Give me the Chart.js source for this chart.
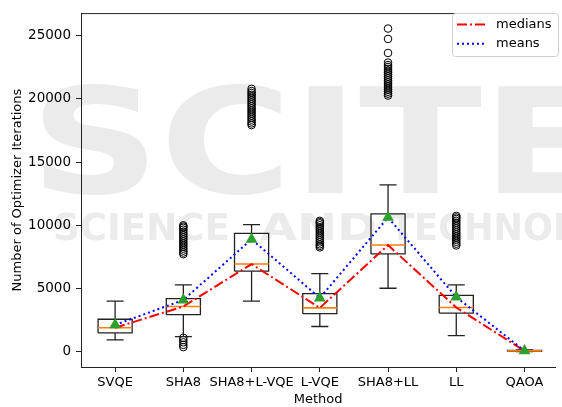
<!DOCTYPE html>
<html>
<head>
<meta charset="utf-8">
<script src="https://cdn.jsdelivr.net/npm/chart.js@4/dist/chart.umd.min.js"></script>
<style>
  html, body { margin: 0; padding: 0; background: #fff; overflow: hidden; }
  canvas { display: block; }
</style>
</head>
<body>
<canvas id="chart" width="562" height="407"></canvas>
<script>
// Optimizer iterations per method: box statistics
const methods      = ['SVQE', 'SHA8', 'SHA8+L-VQE', 'L-VQE', 'SHA8+LL', 'LL', 'QAOA'];
const whiskerLow   = [960, 1215, 4020, 2010, 5030, 1290, 20];
const quartile1    = [1500, 2940, 6380, 3020, 7740, 3070, 50];
const medians      = [1910, 3590, 6940, 3480, 8440, 3510, 80];
const quartile3    = [2580, 4210, 9370, 4600, 10910, 4470, 120];
const whiskerHigh  = [4020, 5290, 10060, 6190, 13200, 5290, 170];
const means        = [2140, 4100, 8900, 4260, 10620, 4330, 90];

// Fliers beyond the whiskers, one list per method
const outliers = [
  [],
  [380, 560, 760, 940, 1120,
   7720, 7850, 8000, 8150, 8300, 8450, 8600, 8750, 8900, 9050, 9200, 9350, 9500, 9650, 9800, 9900, 10000],
  [17920, 18050, 18200, 18350, 18500, 18650, 18800, 18950, 19100, 19250, 19400, 19550, 19700, 19850, 20000, 20150, 20300, 20450, 20600, 20780],
  [8260, 8380, 8500, 8650, 8800, 8950, 9100, 9250, 9400, 9550, 9700, 9850, 10000, 10150, 10250, 10350],
  [20250, 20400, 20550, 20700, 20850, 21000, 21150, 21300, 21450, 21600, 21750, 21900, 22050, 22200, 22350, 22500, 22650, 22850, 23610, 24720, 25540],
  [8410, 8550, 8700, 8850, 9000, 9150, 9300, 9450, 9600, 9750, 9900, 10050, 10200, 10350, 10500, 10620, 10740],
  []
];

const yTickValues = [0, 5000, 10000, 15000, 20000, 25000];
const legendOrder = ['medians', 'means'];

const BOX_HALF = 0.25;   // half box width in category units
const CAP_HALF = 0.125;  // half whisker-cap width

// Build gapped polylines for boxes, whiskers and median bars
const boxPath = [], whiskerPath = [], medianBars = [];
methods.forEach((m, i) => {
  const x = i + 1;
  boxPath.push(
    {x: x - BOX_HALF, y: quartile1[i]}, {x: x + BOX_HALF, y: quartile1[i]},
    {x: x + BOX_HALF, y: quartile3[i]}, {x: x - BOX_HALF, y: quartile3[i]},
    {x: x - BOX_HALF, y: quartile1[i]}, {x: x, y: null});
  whiskerPath.push(
    {x: x, y: quartile3[i]}, {x: x, y: whiskerHigh[i]}, {x: x, y: null},
    {x: x - CAP_HALF, y: whiskerHigh[i]}, {x: x + CAP_HALF, y: whiskerHigh[i]}, {x: x, y: null},
    {x: x, y: quartile1[i]}, {x: x, y: whiskerLow[i]}, {x: x, y: null},
    {x: x - CAP_HALF, y: whiskerLow[i]}, {x: x + CAP_HALF, y: whiskerLow[i]}, {x: x, y: null});
  medianBars.push(
    {x: x - BOX_HALF, y: medians[i]}, {x: x + BOX_HALF, y: medians[i]}, {x: x, y: null});
});
const flierPoints = [];
outliers.forEach((list, i) => list.forEach(v => flierPoints.push({x: i + 1, y: v})));
const medianTrend = medians.map((v, i) => ({x: i + 1, y: v}));
const meanTrend = means.map((v, i) => ({x: i + 1, y: v}));

const FONT = '"DejaVu Sans", sans-serif';

// Faint publisher mark behind the plot
const backdrop = {
  id: 'backdrop',
  beforeDraw(chart) {
    const ctx = chart.ctx;
    ctx.save();
    ctx.fillStyle = '#ebebeb';
    ctx.textBaseline = 'alphabetic';
    ctx.font = 'bold 146px ' + FONT;
    let w = ctx.measureText('SCITE').width;
    ctx.save();
    ctx.translate(30, 193);
    ctx.scale(575 / w, 1);
    ctx.fillText('SCITE', 0, 0);
    ctx.restore();
    ctx.font = 'bold 37px ' + FONT;
    const words = [['SCIENCE', 53, 177], ['AND', 260, 117], ['TECHNOLOGY', 390, null]];
    words.forEach(([t, x0, width]) => {
      const tw = ctx.measureText(t).width;
      const sx = width ? width / tw : 133 / ctx.measureText('TECHN').width;
      ctx.save();
      ctx.translate(x0, 240);
      ctx.scale(sx, 1);
      ctx.fillText(t, 0, 0);
      ctx.restore();
    });
    ctx.restore();
  }
};

// Top spine and the in-plot legend
const frameAndLegend = {
  id: 'frameAndLegend',
  afterDraw(chart) {
    const ctx = chart.ctx;
    const a = chart.chartArea;
    ctx.save();
    ctx.strokeStyle = '#222';
    ctx.lineWidth = 1;
    ctx.beginPath();
    ctx.moveTo(a.left, a.top + 0.5);
    ctx.lineTo(a.right, a.top + 0.5);
    ctx.stroke();

    const bx = 452, by = 13, bw = 106, bh = 43, r = 3;
    ctx.fillStyle = 'rgba(255,255,255,0.8)';
    ctx.strokeStyle = '#d0d0d0';
    ctx.beginPath();
    ctx.roundRect(bx + 0.5, by + 0.5, bw, bh, r);
    ctx.fill();
    ctx.stroke();

    const entries = legendOrder.map(name => chart.data.datasets.find(d => d.label === name));
    entries.forEach((d, k) => {
      const y = 24.5 + k * 19.3;
      ctx.strokeStyle = d.borderColor;
      ctx.lineWidth = d.borderWidth;
      ctx.setLineDash(d.borderDash || []);
      ctx.beginPath();
      ctx.moveTo(457, y);
      ctx.lineTo(485, y);
      ctx.stroke();
      ctx.setLineDash([]);
      ctx.fillStyle = '#000';
      ctx.font = '13px ' + FONT;
      ctx.textBaseline = 'middle';
      ctx.fillText(d.label, 496, y);
    });
    ctx.restore();
  }
};

new Chart(document.getElementById('chart'), {
  type: 'line',
  data: {
    datasets: [
      { label: 'mean markers', data: meanTrend, showLine: false, order: 0,
        pointStyle: 'triangle', pointRadius: 6.8, pointBackgroundColor: '#2ca02c',
        pointBorderColor: '#2ca02c', pointBorderWidth: 0 },
      { label: 'means', data: meanTrend, order: 1, borderColor: '#0000ff',
        borderWidth: 2, borderDash: [2, 3], pointRadius: 0, borderCapStyle: 'butt' },
      { label: 'medians', data: medianTrend, order: 2, borderColor: '#ff0000',
        borderWidth: 2, borderDash: [10, 3, 2, 3], pointRadius: 0 },
      { label: 'median bars', data: medianBars, order: 3, borderColor: '#ff7f0e',
        borderWidth: 1.6, pointRadius: 0, spanGaps: false },
      { label: 'boxes', data: boxPath, order: 4, borderColor: '#222',
        borderWidth: 1.3, pointRadius: 0, spanGaps: false },
      { label: 'whiskers', data: whiskerPath, order: 4, borderColor: '#222',
        borderWidth: 1.3, pointRadius: 0, spanGaps: false },
      { label: 'fliers', data: flierPoints, showLine: false, order: 5,
        pointStyle: 'circle', pointRadius: 3.8, pointBackgroundColor: 'rgba(0,0,0,0)',
        pointBorderColor: '#000', pointBorderWidth: 1 }
    ]
  },
  options: {
    responsive: false,
    animation: false,
    devicePixelRatio: 1,
    events: [],
    elements: { line: { tension: 0 } },
    layout: { padding: { top: 6, right: 0, left: 0, bottom: 0 } },
    plugins: { legend: { display: false }, tooltip: { enabled: false } },
    scales: {
      x: {
        type: 'linear', min: 0.5, max: 7.45,
        afterBuildTicks: s => { s.ticks = methods.map((m, i) => ({value: i + 1})); },
        afterFit: s => { s.height = 40; },
        grid: { drawOnChartArea: false, drawTicks: true, tickLength: 5, tickColor: '#222', tickWidth: 1 },
        border: { display: true, color: '#222', width: 1 },
        ticks: { color: '#000', font: { family: FONT, size: 13 }, padding: 3, maxRotation: 0,
                 autoSkip: false, callback: v => methods[Math.round(v) - 1] },
        title: { display: true, text: 'Method', color: '#000', font: { family: FONT, size: 13 },
                 padding: { top: 0, bottom: 0 } }
      },
      y: {
        type: 'linear', min: -1190, max: 26760,
        afterBuildTicks: s => { s.ticks = yTickValues.map(v => ({value: v})); },
        afterFit: s => { s.width = 81; },
        grid: { drawOnChartArea: false, drawTicks: true, tickLength: 5, tickColor: '#222', tickWidth: 1 },
        border: { display: true, color: '#222', width: 1 },
        ticks: { color: '#000', font: { family: FONT, size: 13.5 }, padding: 5, callback: v => String(v) },
        title: { display: true, text: 'Number of Optimizer Iterations', color: '#000',
                 font: { family: FONT, size: 13 }, padding: { top: 10, bottom: 0 } }
      }
    }
  },
  plugins: [backdrop, frameAndLegend]
});
</script>
</body>
</html>
